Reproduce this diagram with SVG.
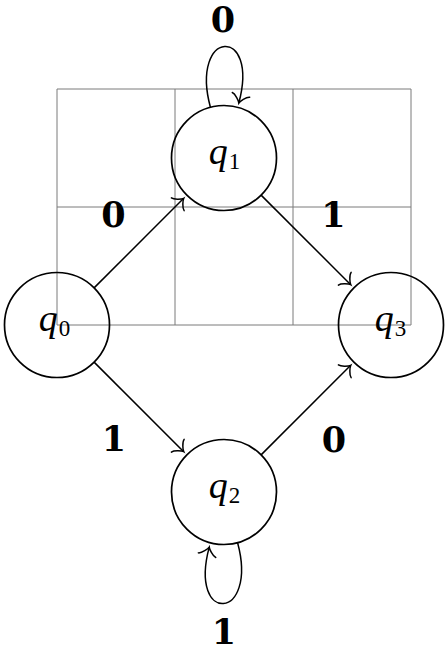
<svg xmlns="http://www.w3.org/2000/svg" width="448" height="652" viewBox="0 0 448 652">
<style>
.grid{stroke:#7a7a7a;stroke-width:1;fill:none}
.node{fill:none;stroke:#000;stroke-width:1.7}
.edge{fill:none;stroke:#000;stroke-width:1.5;marker-end:url(#to)}
.q{font-family:"Liberation Serif",serif;font-style:italic;font-size:38px;text-anchor:middle;fill:#000}
.s{font-style:normal;font-size:23px}
.d{font-family:"DejaVu Serif",serif;font-weight:bold;font-size:35px;text-anchor:middle;fill:#000}
</style>
<defs>
<marker id="to" viewBox="-10 -10 12 20" markerWidth="12" markerHeight="20" refX="0" refY="0" orient="auto" markerUnits="userSpaceOnUse" overflow="visible">
<path d="M-8.4,-9 C-7.9,-5.6 -1.7,-0.56 0,0 C-1.7,0.56 -7.9,5.6 -8.4,9" fill="none" stroke="#000" stroke-width="1.5" stroke-linecap="round"/>
</marker>
</defs>
<g id="grid" class="grid">
<path d="M57,89V325M175,89V325M293,89V325M411,89V325M57,89H411M57,207H411M57,325H411"/>
</g>
<g id="q0"><circle class="node" cx="57" cy="325" r="52.5"/><text class="q" x="54.5" y="331">q<tspan class="s" dx="1" dy="5">0</tspan></text></g>
<g id="q1"><circle class="node" cx="224" cy="158" r="52.5"/><text class="q" x="224.5" y="164">q<tspan class="s" dx="1" dy="5">1</tspan></text></g>
<g id="q2"><circle class="node" cx="224" cy="492" r="52.5"/><text class="q" x="224.5" y="498">q<tspan class="s" dx="1" dy="5">2</tspan></text></g>
<g id="q3"><circle class="node" cx="391" cy="325" r="52.5"/><text class="q" x="390.5" y="331">q<tspan class="s" dx="1" dy="5">3</tspan></text></g>
<g id="connectors">
<path class="edge" d="M94.1,287.9L183.7,198.3"/>
<path class="edge" d="M261.1,195.1L350.7,284.7"/>
<path class="edge" d="M94.1,362.1L183.7,451.7"/>
<path class="edge" d="M261.1,454.9L350.7,365.3"/>
<path class="edge" d="M210.4,107.3C189.4,29.1 259.8,24.8 238.8,103"/>
<path class="edge" d="M237.6,542.7C258.6,620.9 188.25,625.3 209.25,547.1"/>
</g>
<g id="labels">
<text class="d" x="223" y="32">0</text>
<text class="d" x="113.5" y="227">0</text>
<text class="d" x="333.5" y="227">1</text>
<text class="d" x="114" y="450.5">1</text>
<text class="d" x="334" y="452">0</text>
<text class="d" x="224" y="644">1</text>
</g>
</svg>
